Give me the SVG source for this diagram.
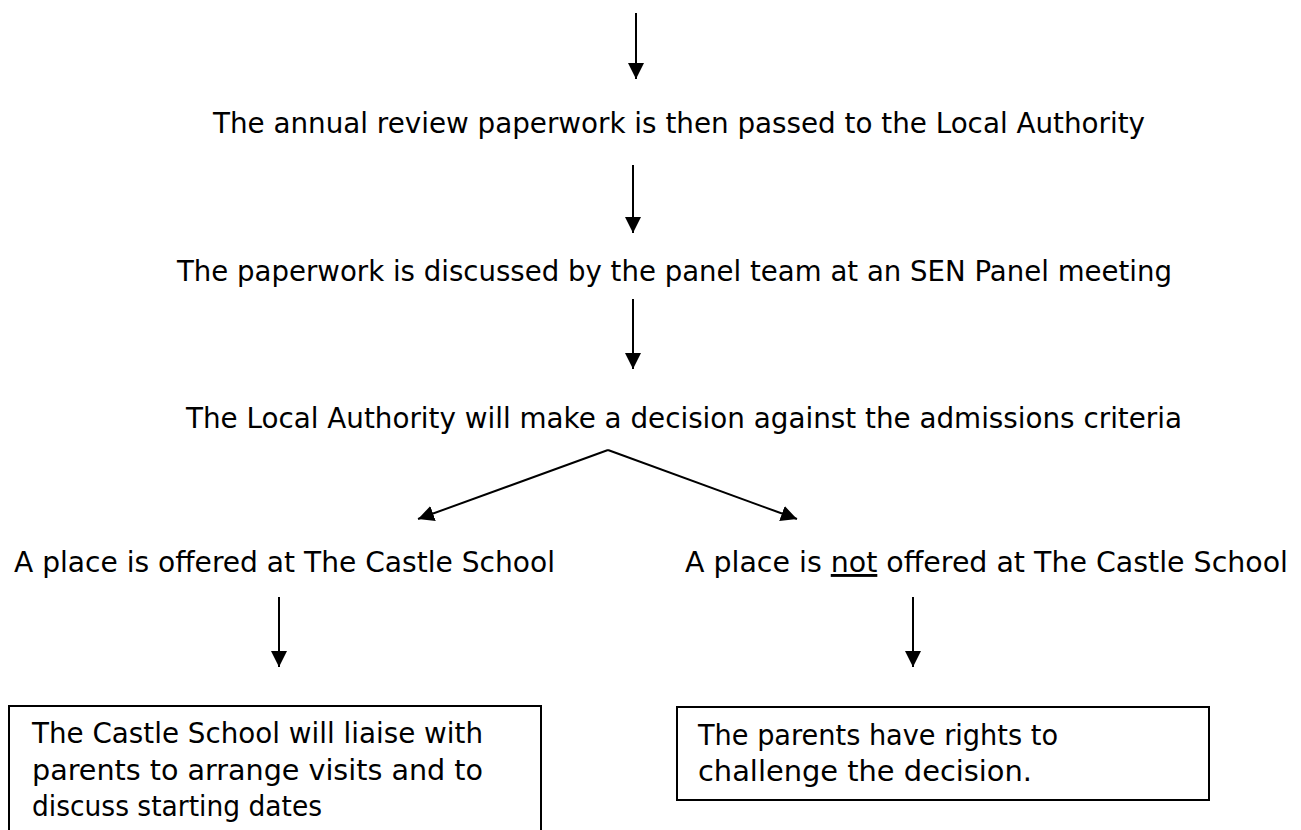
<svg xmlns="http://www.w3.org/2000/svg" width="1301" height="830" viewBox="0 0 1301 830">
<style>
  .t { font-family: "DejaVu Sans", "Liberation Sans", sans-serif; font-size: 29px; fill: #000; }
  .c { stroke: #000; stroke-width: 2; fill: none; }
  .box { fill: #fff; stroke: #000; stroke-width: 2; }
</style>
<defs>
  <marker id="ah" viewBox="0 0 16 16" refX="16" refY="8" markerWidth="16" markerHeight="16" orient="auto" markerUnits="userSpaceOnUse">
    <path d="M0,0 L16,8 L0,16 Z" fill="#000"/>
  </marker>
</defs>
<rect width="1301" height="830" fill="#fff"/>
<g id="connectors">
  <line class="c" x1="636" y1="13" x2="636" y2="79" marker-end="url(#ah)"/>
  <line class="c" x1="633" y1="165" x2="633" y2="233" marker-end="url(#ah)"/>
  <line class="c" x1="633" y1="299" x2="633" y2="369" marker-end="url(#ah)"/>
  <line class="c" x1="608" y1="450" x2="418" y2="519" marker-end="url(#ah)"/>
  <line class="c" x1="608" y1="450" x2="797" y2="519" marker-end="url(#ah)"/>
  <line class="c" x1="279" y1="597" x2="279" y2="667" marker-end="url(#ah)"/>
  <line class="c" x1="913" y1="597" x2="913" y2="667" marker-end="url(#ah)"/>
</g>
<g id="n1"><text class="t" x="213" y="133" textLength="932" lengthAdjust="spacingAndGlyphs">The annual review paperwork is then passed to the Local Authority</text></g>
<g id="n2"><text class="t" x="177" y="281" textLength="995" lengthAdjust="spacingAndGlyphs">The paperwork is discussed by the panel team at an SEN Panel meeting</text></g>
<g id="n3"><text class="t" x="186" y="428" textLength="996" lengthAdjust="spacingAndGlyphs">The Local Authority will make a decision against the admissions criteria</text></g>
<g id="n4"><text class="t" x="14" y="572" textLength="541" lengthAdjust="spacingAndGlyphs">A place is offered at The Castle School</text></g>
<g id="n5"><text class="t" x="685" y="572" textLength="603" lengthAdjust="spacingAndGlyphs">A place is <tspan text-decoration="underline">not</tspan> offered at The Castle School</text></g>
<g id="n6">
  <rect class="box" x="9" y="706" width="532" height="140"/>
  <text class="t" x="32" y="743" textLength="451" lengthAdjust="spacingAndGlyphs">The Castle School will liaise with</text>
  <text class="t" x="32" y="780" textLength="451" lengthAdjust="spacingAndGlyphs">parents to arrange visits and to</text>
  <text class="t" x="32" y="816" textLength="290" lengthAdjust="spacingAndGlyphs">discuss starting dates</text>
</g>
<g id="n7">
  <rect class="box" x="677" y="707" width="532" height="93"/>
  <text class="t" x="698" y="745" textLength="360" lengthAdjust="spacingAndGlyphs">The parents have rights to</text>
  <text class="t" x="698" y="781" textLength="334" lengthAdjust="spacingAndGlyphs">challenge the decision.</text>
</g>
</svg>
